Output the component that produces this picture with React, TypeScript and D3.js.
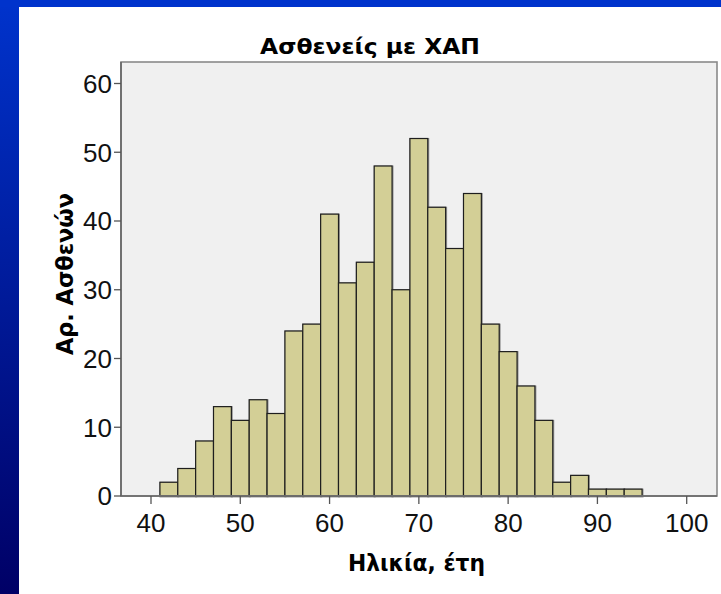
import React from "react";
import * as d3 from "d3";

const binStarts = [41, 43, 45, 47, 49, 51, 53, 55, 57, 59, 61, 63, 65, 67, 69, 71, 73, 75, 77, 79, 81, 83, 85, 87, 89, 91, 93];
const counts = [2, 4, 8, 13, 11, 14, 12, 24, 25, 41, 31, 34, 48, 30, 52, 42, 36, 44, 25, 21, 16, 11, 2, 3, 1, 1, 1];
const binWidth = 2;
const xTicks = [40, 50, 60, 70, 80, 90, 100];
const yTicks = [0, 10, 20, 30, 40, 50, 60];
const title = "Ασθενείς με ΧΑΠ";
const xTitle = "Ηλικία, έτη";
const yTitle = "Αρ. Ασθενών";

export default function App() {
  const W = 721, H = 594;
  const left = 121, right = 717, top = 62, bottom = 496;
  const x = d3.scaleLinear().domain([40, 100]).range([151, 686.7]);
  const y = d3.scaleLinear().domain([0, 60]).range([bottom, 83.5]);
  const font = "'Liberation Sans', Arial, sans-serif";
  const bold = "'DejaVu Sans', Verdana, sans-serif";
  return (
    <svg width={W} height={H} style={{ position: "absolute", left: 0, top: 0, display: "block" }}>
      <defs>
        <linearGradient id="bg" x1="0" y1="0" x2="0" y2="1">
          <stop offset="0" stopColor="#0033cc" />
          <stop offset="0.5" stopColor="#001a99" />
          <stop offset="1" stopColor="#000066" />
        </linearGradient>
      </defs>
      <rect x={0} y={0} width={W} height={H} fill="url(#bg)" />
      <rect x={0} y={0} width={W} height={7} fill="#0033cc" />
      <rect x={19} y={7} width={W - 19} height={H - 7} fill="#ffffff" />
      <rect x={left} y={top} width={right - left} height={bottom - top} fill="#f0f0f0" />
      {binStarts.map((b, i) => (
        <rect
          key={i}
          x={x(b) + 0.5}
          y={y(counts[i]) + 0.5}
          width={x(b + binWidth) - x(b)}
          height={bottom - y(counts[i])}
          fill="none"
          stroke="#999"
          strokeWidth={2}
        />
      ))}
      {binStarts.map((b, i) => (
        <rect
          key={"b" + i}
          x={x(b)}
          y={y(counts[i])}
          width={x(b + binWidth) - x(b)}
          height={bottom - y(counts[i])}
          fill="#d3cf96"
          stroke="#1e1e1e"
          strokeWidth={1.2}
        />
      ))}
      <rect x={left} y={top} width={right - left} height={bottom - top} fill="none" stroke="#8a8a8a" strokeWidth={1.6} />
      <line x1={left} y1={top} x2={left} y2={bottom} stroke="#666" strokeWidth={1.6} />
      <line x1={left} y1={bottom} x2={right} y2={bottom} stroke="#666" strokeWidth={1.6} />
      {yTicks.map((t) => (
        <g key={"y" + t}>
          <line x1={114} x2={left} y1={y(t)} y2={y(t)} stroke="#555" strokeWidth={1.3} />
          <text x={112} y={y(t)} dy="0.36em" textAnchor="end" fontFamily={font} fontSize={26} fill="#111">
            {t}
          </text>
        </g>
      ))}
      {xTicks.map((t) => (
        <g key={"x" + t}>
          <line x1={x(t)} x2={x(t)} y1={bottom} y2={504} stroke="#555" strokeWidth={1.3} />
          <text x={x(t)} y={531.5} textAnchor="middle" fontFamily={font} fontSize={26} fill="#111">
            {t}
          </text>
        </g>
      ))}
      <text x={370} y={54} textAnchor="middle" fontFamily={bold} fontWeight="bold" fontSize={22} textLength={220} lengthAdjust="spacingAndGlyphs" fill="#000">
        {title}
      </text>
      <text x={416.5} y={571} textAnchor="middle" fontFamily={bold} fontWeight="bold" fontSize={23.5} textLength={137} lengthAdjust="spacingAndGlyphs" fill="#000">
        {xTitle}
      </text>
      <text
        transform={`translate(73, 274) rotate(-90)`}
        textAnchor="middle"
        fontFamily={bold}
        fontWeight="bold"
        fontSize={23.5}
        textLength={162}
        lengthAdjust="spacingAndGlyphs"
        fill="#000"
      >
        {yTitle}
      </text>
    </svg>
  );
}
